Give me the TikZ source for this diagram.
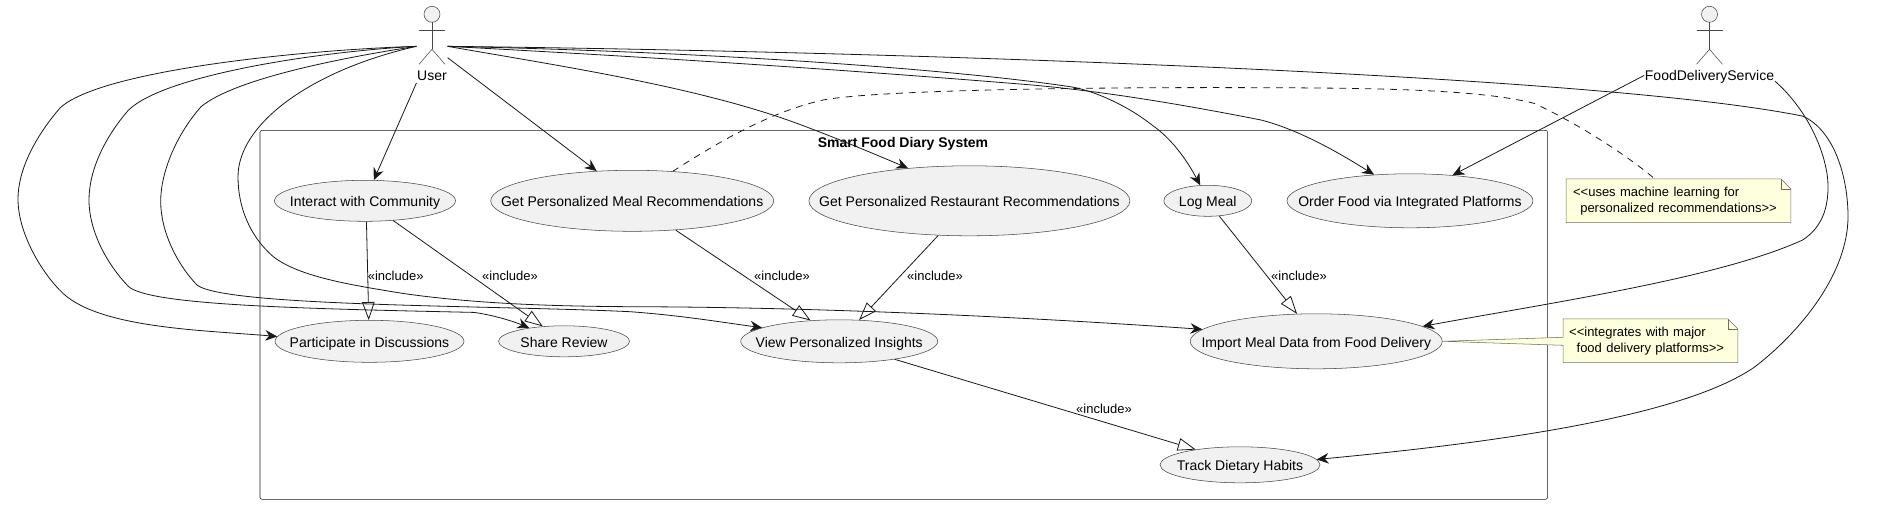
\documentclass[tikz,border=0pt]{standalone}
\usepackage{fontspec}
\setmainfont{Liberation Sans}
\usepackage{xcolor}
\usetikzlibrary{shapes.geometric,arrows.meta,fit,positioning,calc,backgrounds}

\definecolor{linecol}{HTML}{181818}
\definecolor{casefill}{HTML}{F1F1F1}
\definecolor{notefill}{HTML}{FEFFDD}
\definecolor{noteline}{HTML}{6E6E5A}

\begin{document}
\begin{tikzpicture}[x=0.75pt,y=-0.75pt,font=\fontsize{10.5}{12.6}\selectfont,line width=0.6pt,every label/.append style={text height=7.5pt,text depth=2.2pt,yshift=-1.9pt}]
\tikzset{usecase/.style 2 args={ellipse,draw=linecol!80,fill=casefill,thin,inner sep=0pt,minimum width=#1*0.75pt,minimum height=#2*0.75pt},
usearrow/.style={-{Stealth[length=9pt,width=8pt,inset=3pt]},draw=linecol},
incl/.style={-{Triangle[open,length=13.5pt,width=9.5pt,fill=white]},draw=linecol},
incllabel/.style={font=\fontsize{9.75}{11}\selectfont,inner sep=0pt},
notebox/.style={align=left,inner sep=0pt,font=\fontsize{9.75}{12}\selectfont},
notepath/.style={draw=noteline,fill=notefill,thin},
notefold/.style={draw=noteline,thin},
actorlabel/.style={inner sep=0pt,minimum height=16pt,text height=7.5pt,text depth=0pt},
pics/.cd,
actor/.style={code={%
\draw[draw=linecol!80,fill=casefill,thin] (0,14.3) circle (8);
\draw[draw=linecol!80,thin] (0,22.3) -- (0,49.3);
\draw[draw=linecol!80,thin] (-13,30) -- (13,30);
\draw[draw=linecol!80,thin] (-13,64.3) -- (0,49.3) -- (13,64.3);
}}}

\node[font=\bfseries\fontsize{10.5}{12.6}\selectfont,inner sep=0pt] (systitle) at (903,143.8) {Smart Food Diary System};

\pic[local bounding box=userfig] at (432,0) {actor};
\node[actorlabel] (userlabel) at (432,75.3) {User};
\node[fit=(userfig) (userlabel),inner sep=0pt] (user) {};

\pic[local bounding box=fdfig] at (1709.5,0) {actor};
\node[actorlabel] (fdlabel) at (1709.5,75.3) {FoodDeliveryService};
\node[fit=(fdfig) (fdlabel),inner sep=0pt] (fd) {};

\node[usecase={181}{41},label=center:{Interact with Community}] (interact) at (365,200.8) {};
\node[usecase={283}{61},right=26pt of interact,label=center:{Get Personalized Meal Recommendations}] (meal) {};
\node[usecase={321}{70},right=26pt of meal,label=center:{Get Personalized Restaurant Recommendations}] (restaurant) {};
\node[usecase={88}{31},right=25pt of restaurant,label=center:{Log Meal}] (logmeal) {};
\node[usecase={246}{54},right=26pt of logmeal,label=center:{Order Food via Integrated Platforms}] (order) {};

\node[usecase={189}{42},label=center:{Participate in Discussions}] (discuss) at (369.5,341.3) {};
\node[usecase={131}{31},right=25.5pt of discuss,label=center:{Share Review}] (review) {};
\node[usecase={197}{43},right=83pt of review,label=center:{View Personalized Insights}] (insights) {};
\node[usecase={252}{55},right=189pt of insights,label=center:{Import Meal Data from Food Delivery}] (import) {};
\node[usecase={160}{36},label=center:{Track Dietary Habits}] (track) at (1240,464.8) {};

\node[notebox,text width=158pt,minimum width=224*0.75pt,minimum height=43*0.75pt] (note1) at (1678.4,200.8) {<{}<uses machine learning for\\\hspace*{5.4pt}personalized recommendations>{}>};
\node[notebox,text width=122pt,minimum width=174*0.75pt,minimum height=43*0.75pt] (note2) at (1650.5,340.8) {<{}<integrates with major\\\hspace*{5.6pt}food delivery platforms>{}>};

\begin{scope}[on background layer]
\node[draw=linecol,rounded corners=1.5pt,thin,minimum width=1287.5*0.75pt,minimum height=369*0.75pt,inner sep=0pt] (sys) at (903.75,314.8) {};
\draw[notepath] (note1.north west) -- ($(note1.north east)+(-10,0)$) -- ($(note1.north east)+(0,10)$) -- (note1.south east) -- (note1.south west) -- cycle;
\draw[notepath] (note2.north west) -- ($(note2.north east)+(-10,0)$) -- ($(note2.north east)+(0,10)$) -- (note2.south east) -- (note2.south west) -- ($(note2.west)+(0,4.5)$) -- (import.east) -- ($(note2.west)+(0,-3.5)$) -- cycle;
\end{scope}
\draw[notefold] ($(note1.north east)+(-10,0)$) |- ($(note1.north east)+(0,10)$);
\draw[notefold] ($(note2.north east)+(-10,0)$) |- ($(note2.north east)+(0,10)$);

\draw[incl] (interact.-86) -- (discuss.92.7);
\draw[incl] (interact.-35.7) -- (review.145.5);
\draw[incl] (meal.-34.6) -- (insights.144.5);
\draw[incl] (restaurant.228.6) -- (insights.47);
\draw[incl] (logmeal.-53.2) -- (import.125.8);
\draw[incl] (insights.-18) -- (track.161.5);

\node[incllabel] (incl1) at (395.7,276) {«include»};
\node[incllabel] (incl2) at (510,276) {«include»};
\node[incllabel] (incl3) at (782,276) {«include»};
\node[incllabel] (incl4) at (935,276) {«include»};
\node[incllabel] (incl5) at (1299,276) {«include»};
\node[incllabel] (incl6) at (1104,408.7) {«include»};

\draw[usearrow] (user.247.8) -- (interact.67.2);
\draw[usearrow] (user.-36) -- (meal.140.7);
\draw[usearrow] (user.east) .. controls (560,66) and (700,87) .. (800,124.5) .. controls (840,139.4) and (875,154.3) .. (restaurant.152.8);
\draw[usearrow] (user.east) .. controls (720,52) and (960,70) .. (1072,87) .. controls (1095,91) and (1128,106) .. (1152,125) .. controls (1175,141) and (1190,166) .. (logmeal.116.6);
\draw[usearrow] (user.east) .. controls (650,57) and (850,70) .. (1032,85) .. controls (1110,92) and (1190,106) .. (1261,120) .. controls (1300,130) and (1340,153.5) .. (order.144.4);
\draw[usearrow] (user.east) .. controls (900,51.4) and (1600,74.7) .. (1803,116.2) .. controls (1835,131) and (1848,178.4) .. (1848,216.5) .. controls (1848,273.8) and (1800,332) .. (1755,366.7) .. controls (1680,419) and (1480,444) .. (track.4.3);

\draw[usearrow] (user.west) .. controls (300,50) and (100,70.5) .. (60,108) .. controls (35,137) and (18,170) .. (18,199) .. controls (18,232) and (40,270) .. (60,290.4) .. controls (95,328) and (200,330) .. (discuss.177);
\draw[usearrow] (user.west) .. controls (320,51.4) and (165,74.7) .. (128.6,110) .. controls (105,137) and (89,170) .. (89,200) .. controls (89,232) and (108,265.5) .. (128.6,286.6) .. controls (150,305.3) and (300,308.6) .. (474,312.4) .. controls (495,315.3) and (515,322) .. (review.159.5);
\draw[usearrow] (user.west) .. controls (340,58) and (235,78.8) .. (201,106.7) .. controls (178,132.8) and (160.7,170) .. (160.7,201.6) .. controls (160.7,232.3) and (178,265.5) .. (197,285) .. controls (225,307) and (500,305.3) .. (630,311.7) .. controls (680,315.3) and (720,322) .. (insights.170.8);
\draw[usearrow] (user.west) .. controls (310,70.5) and (238,124.5) .. (238,176.7) .. controls (238,207.4) and (250,236.5) .. (273,256.4) .. controls (300,278) and (360,286.2) .. (402,293.3) .. controls (480,304.5) and (560,306.2) .. (630,306.7) .. controls (800,307) and (1000,315.3) .. (import.174.6);

\draw[usearrow] (fd.204.4) -- (order.31.5);
\draw[usearrow] (fd.-28.6) .. controls (1810,112) and (1828,157.6) .. (1828,186.7) .. controls (1828,211.6) and (1820,228.2) .. (1803,239.8) .. controls (1720,278) and (1550,302.8) .. (import.8.5);

\draw[dashed,dash pattern=on 5pt off 4.5pt,draw=linecol] (meal.36.9) .. controls (720,141) and (770,112) .. (823,100) .. controls (880,89.6) and (1100,87) .. (1261,87.7) .. controls (1380,88) and (1480,89.6) .. (1534,103.3) .. controls (1580,124.5) and (1630,157.6) .. (note1.north west -| 1654.7,0);

\useasboundingbox (0,0) rectangle (1891,504);
\end{tikzpicture}
\end{document}
